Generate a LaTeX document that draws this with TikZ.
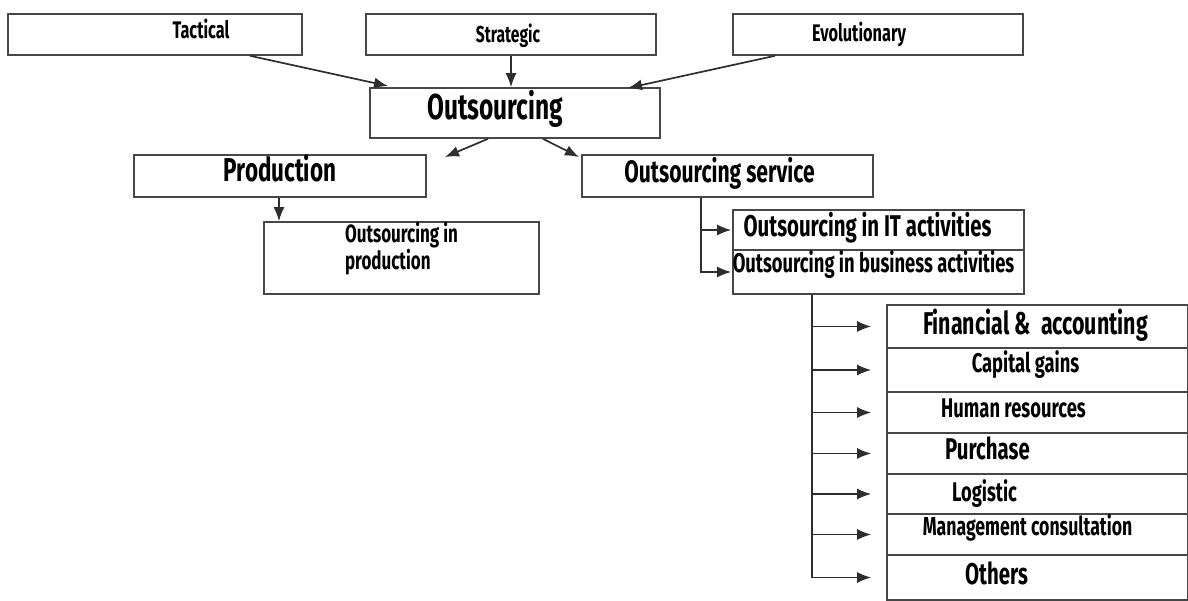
\documentclass[tikz,border=0pt]{standalone}
\usepackage{fontspec}
\setmainfont{Fira Sans}[FakeStretch=0.68]
\usetikzlibrary{arrows.meta}
\newcommand{\fs}[1]{\fontsize{#1}{#1}\selectfont}
\tikzstyle{box}=[draw=black!72,line width=1.6pt,inner sep=0pt]
\tikzstyle{item}=[box,minimum width=301]
\tikzset{t/.style n args={3}{font=\bfseries\fs{#1},text height=#2pt,text depth=0pt,
  execute at begin node={\hspace*{#3pt}}}}
\tikzstyle{arr}=[draw=black!82,line width=1.7pt,-{Latex[length=14pt,width=11pt]}]

\begin{document}
\begin{tikzpicture}[x=1pt,y=-1pt]
\useasboundingbox (0,0) rectangle (1188,601);

% top level
\node[box,minimum width=294,minimum height=41,t={24}{9}{92}] (tact) at (155,34.5) {Tactical};
\node[box,minimum width=290,minimum height=41,t={23}{16}{-6}] (strat) at (511,34.5) {Strategic};
\node[box,minimum width=290,minimum height=41,t={24}{14.6}{-38}] (evo) at (878,34.5) {Evolutionary};
\node[box,minimum width=290,minimum height=50,t={36}{14}{-40}] (outs) at (515,113) {Outsourcing};

\coordinate (tactend) at (388,86);
\coordinate (evoend) at (628,88);
\draw[arr] (tact.south -| 250,0) -- (tactend);
\draw[arr] (strat.south) -- (strat.south |- outs.north);
\draw[arr] (evo.south -| 775,0) -- (evoend);

% second level
\node[box,minimum width=292,minimum height=42,t={33}{11}{0}] (prod) at (280,176) {Production};
\node[box,minimum width=291,minimum height=42,t={31}{13.4}{-16}] (serv) at (727.5,176) {Outsourcing service};
\coordinate (prodend) at (445,157);
\coordinate (servend) at (579,157);
\draw[arr] (outs.south -| 488,0) -- (prodend);
\draw[arr] (outs.south -| 543,0) -- (servend);

\node[box,minimum width=275,minimum height=72,align=left,text height=24pt,text depth=0pt,
  font=\bfseries\fontsize{25}{27}\selectfont] (inprod) at (401.5,258) {Outsourcing in\\production};
\draw[arr] (prod.south -| 279,0) -- (inprod.north -| 279,0);

\node[box,minimum width=291,minimum height=40,t={30}{12.7}{-22}] (it) at (878.5,230) {Outsourcing in IT activities};
\node[box,minimum width=291,minimum height=44,t={27}{0.5}{-10}] (bus) at (878.5,272) {Outsourcing in business activities};
\coordinate (strunk) at (701,0);
\draw[arr,shorten >=1pt] (serv.south -| strunk) |- (it.west);
\draw[arr,shorten >=1pt] (serv.south -| strunk) |- (bus.west);

% business activities
\node[item,minimum height=43,t={31.5}{16}{-4}] (fin) at (1037.5,326.5) {Financial \&\ \ accounting};
\node[item,minimum height=44,t={27}{5.6}{-24}] (cap) at (1037.5,370) {Capital gains};
\node[item,minimum height=41,t={27}{9.6}{-48}] (hum) at (1037.5,412.5) {Human resources};
\node[item,minimum height=41,t={30}{11.7}{-100}] (pur) at (1037.5,453.5) {Purchase};
\node[item,minimum height=40,t={27}{15.6}{-106}] (log) at (1037.5,494) {Logistic};
\node[item,minimum height=41,t={26}{1}{-20}] (man) at (1037.5,534.5) {Management consultation};
\node[item,minimum height=45,t={30}{13.7}{-82}] (oth) at (1037.5,577.5) {Others};

\coordinate (btrunk) at (812,0);
\foreach \n in {fin,cap,hum,pur,log,man,oth}
  \draw[arr,shorten >=15pt] (bus.south -| btrunk) |- (\n.west);
\end{tikzpicture}
\end{document}
